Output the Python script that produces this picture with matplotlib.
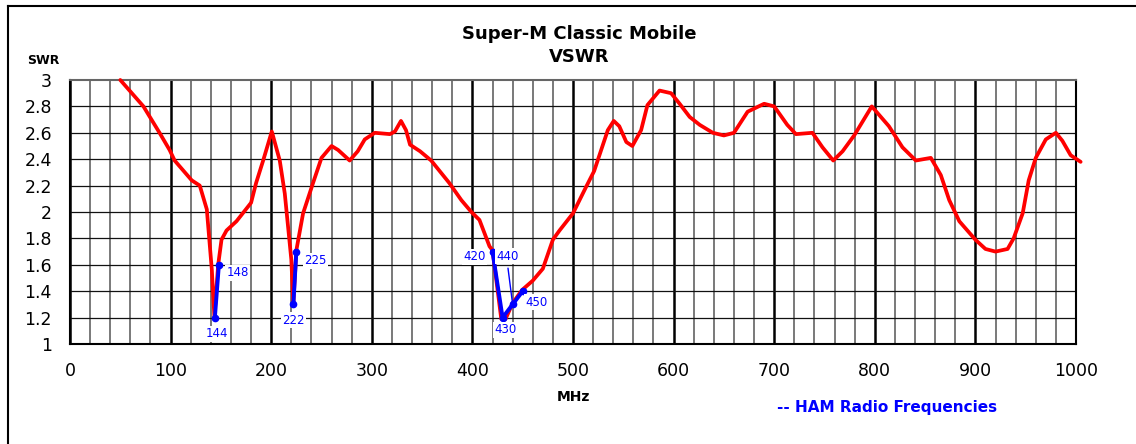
import matplotlib.pyplot as plt
import numpy as np
from matplotlib.lines import Line2D

plt.rcParams['font.family'] = ['DejaVu Sans']

# VSWR curve
freq = [50, 73, 81, 89, 99, 104, 121, 129, 136, 141, 143.5, 147.3, 150.6, 155.6,
        165.5, 180, 185, 192, 200.6, 208.5, 213.5, 220, 222, 225, 231.7, 241.6,
        250, 260, 266.5, 278, 286, 293, 303, 318, 323, 329, 334, 338, 348, 359,
        377, 389, 399, 407, 417, 420, 428.7, 433, 440, 449.5, 460, 470, 480,
        486.6, 500, 513, 521, 534.6, 540.5, 546, 553, 559, 567.7, 574, 586,
        597.5, 606, 616, 626, 639, 650, 660, 673.6, 690, 700, 713, 721.6, 738,
        748, 758.7, 768, 779.5, 797, 814, 827.5, 840.8, 855.7, 865.6, 874, 884,
        892, 900, 910, 920, 932, 938, 947, 953, 960, 970, 980, 986.4, 994.7,
        1004.6]
swr = [3.0, 2.80, 2.70, 2.60, 2.47, 2.39, 2.24, 2.20, 2.02, 1.56, 1.21, 1.60,
       1.79, 1.86, 1.93, 2.07, 2.22, 2.39, 2.61, 2.39, 2.14, 1.64, 1.30, 1.71,
       1.99, 2.22, 2.41, 2.50, 2.47, 2.39, 2.46, 2.55, 2.60, 2.59, 2.61, 2.69,
       2.62, 2.51, 2.46, 2.39, 2.22, 2.09, 2.00, 1.94, 1.74, 1.71, 1.19, 1.19,
       1.31, 1.41, 1.48, 1.57, 1.79, 1.86, 1.99, 2.19, 2.31, 2.62, 2.69, 2.65,
       2.53, 2.50, 2.62, 2.81, 2.92, 2.90, 2.82, 2.72, 2.66, 2.60, 2.58, 2.60,
       2.76, 2.82, 2.80, 2.66, 2.59, 2.60, 2.49, 2.39, 2.46, 2.58, 2.80, 2.65,
       2.49, 2.39, 2.41, 2.28, 2.09, 1.93, 1.86, 1.79, 1.72, 1.70, 1.72, 1.80,
       1.99, 2.24, 2.41, 2.55, 2.60, 2.54, 2.43, 2.38]

# HAM radio bands
ham_bands = [([144, 148], [1.2, 1.6]),
             ([222, 225], [1.3, 1.7]),
             ([420, 430, 440, 450], [1.7, 1.2, 1.3, 1.4])]
ham_labels = ['144', '148', '222', '225', '420', '430', '440', '450']
ham_freq = [144, 148, 222, 225, 420, 430, 440, 450]
ham_swr = [1.2, 1.6, 1.3, 1.7, 1.7, 1.2, 1.3, 1.4]
label_offsets = [(2, -16), (19, -8), (0, -16), (19, -9), (-18, -5), (3, -12), (-5, 48), (14, -11)]

fig = plt.figure(figsize=(11.36, 4.44), dpi=100)
ax = fig.add_axes([70/1136, 100/444, 1006/1136, 264/444])

# grid: heavy every 100 MHz, lighter every 20 MHz
for x in range(0, 1001, 20):
    if x % 100 == 0:
        ax.axvline(x, color='black', lw=1.8, zorder=1)
    else:
        ax.axvline(x, color='#555555', lw=1.1, zorder=1)
for y in np.arange(1.2, 3.0, 0.2):
    ax.axhline(y, color='#111111', lw=0.9, zorder=1)

ax.plot(freq, swr, color='#ff0000', lw=2.7, zorder=3, clip_on=False,
        solid_joinstyle='round', solid_capstyle='round')

for f, s in ham_bands:
    ax.plot(f, s, color='#0000ff', lw=2.8, marker='o', ms=4.5, zorder=4)

for lab, f, s, off in zip(ham_labels, ham_freq, ham_swr, label_offsets):
    ax.annotate(lab, (f, s), xytext=off, textcoords='offset pixels',
                ha='center', va='center', color='#0000ff', fontsize=8.5,
                bbox=dict(facecolor='white', edgecolor='none', pad=1),
                zorder=5)
# leader line for 440
ax.annotate('', (440, 1.3), xytext=(-5, 39), textcoords='offset pixels',
            arrowprops=dict(arrowstyle='-', color='#0000ff', lw=1), zorder=5)

ax.set_xlim(0, 1000)
ax.set_ylim(1, 3)
ax.set_xticks(range(0, 1001, 100))
ax.set_yticks([1, 1.2, 1.4, 1.6, 1.8, 2, 2.2, 2.4, 2.6, 2.8, 3])
ax.set_yticklabels(['1', '1.2', '1.4', '1.6', '1.8', '2', '2.2', '2.4', '2.6', '2.8', '3'])
ax.tick_params(length=0, labelsize=12.5, pad=13)
ax.tick_params(axis='x', pad=13)
for side in ['left', 'bottom', 'right']:
    ax.spines[side].set_linewidth(1.5)
ax.spines['top'].set_color('#666666')
ax.spines['top'].set_linewidth(1.5)

fig.text(579/1136, 1 - 34/444, 'Super-M Classic Mobile', ha='center', va='center',
         fontsize=13, fontweight='bold')
fig.text(579/1136, 1 - 57/444, 'VSWR', ha='center', va='center',
         fontsize=13, fontweight='bold')
fig.text(43/1136, 1 - 60/444, 'SWR', ha='center', va='center', fontsize=9, fontweight='bold')
fig.text(573/1136, 1 - 397/444, 'MHz', ha='center', va='center', fontsize=10, fontweight='bold')
fig.text(777/1136, 1 - 407/444, '-- HAM Radio Frequencies', ha='left', va='center',
         fontsize=11, fontweight='bold', color='#0000ff')

# outer frame
fig.add_artist(Line2D([8/1136, 1], [1 - 6/444, 1 - 6/444], color='black', lw=1.5))
fig.add_artist(Line2D([8/1136, 8/1136], [0, 1 - 6/444], color='black', lw=1.5))

fig.savefig('out.png', dpi=100)
